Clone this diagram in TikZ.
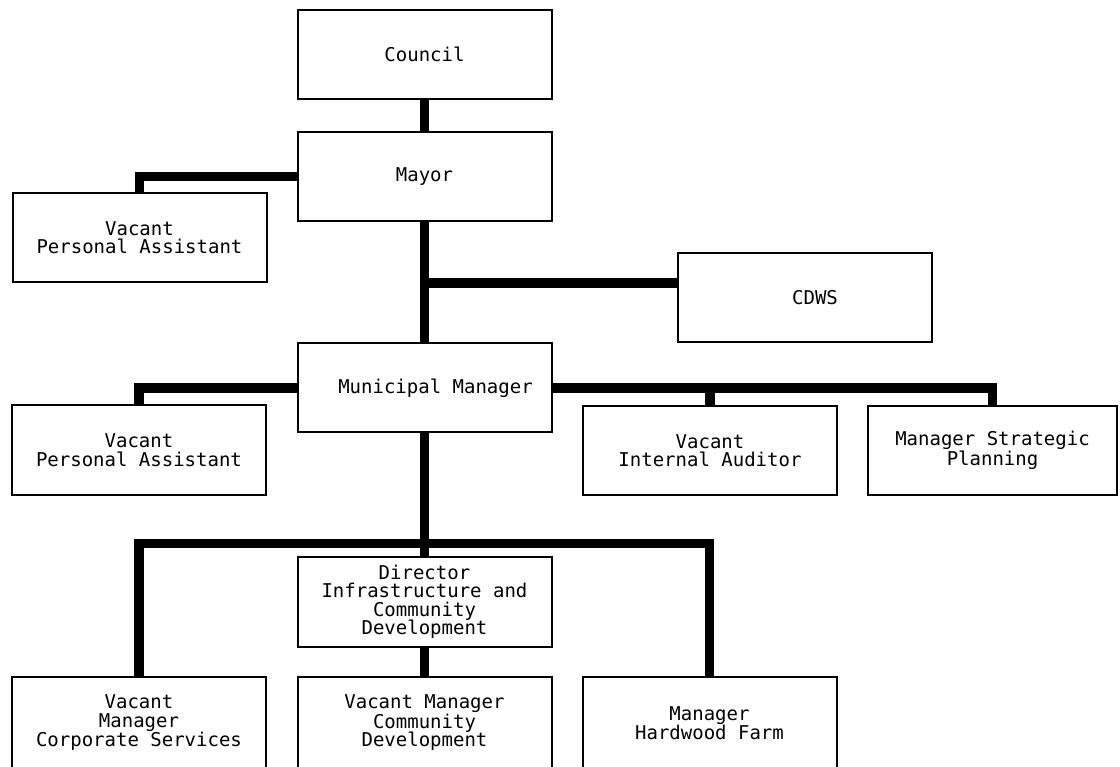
\documentclass[tikz,border=0pt]{standalone}
\usepackage{fontspec}
\newfontfamily\boxfont{DejaVu Sans Mono}
\pgfdeclarelayer{background}
\pgfsetlayers{background,main}
\begin{document}
\begin{tikzpicture}[x=1pt,y=-1pt,
  orgbox/.style={draw=black, line width=2pt, fill=white, rectangle, inner sep=0pt,
    minimum width=254pt, minimum height=89pt, align=center,
    font={\boxfont\fontsize{19}{18.5}\selectfont}},
  link/.style={draw=black, line width=9.5pt}]
\useasboundingbox (0,0) rectangle (1120,767);
% boxes
\node[orgbox] (council) at (424.5,54.5) {Council};
\node[orgbox] (mayor) at (424.5,176.5) {Mayor};
\node[orgbox] (pa1) at (139.5,237.5) {Vacant\\Personal Assistant};
\node[orgbox] (cdws) at (805,298) {\hspace*{20pt}CDWS};
\node[orgbox] (mm) at (424.5,388) {\hspace*{22pt}Municipal Manager};
\node[orgbox] (pa2) at (139,450) {Vacant\\ Personal Assistant};
\node[orgbox] (ia) at (710,450.5) {Vacant\\Internal Auditor};
\node[orgbox, minimum width=249pt] (sp) at (992.5,450.5) {Manager Strategic\\Planning};
\node[orgbox, minimum height=90pt] (dir) at (424.5,602) {Director\\Infrastructure and\\Community\\Development};
\node[orgbox, minimum height=92pt] (cs) at (139,723) {Vacant\\Manager\\Corporate Services};
\node[orgbox, minimum height=92pt] (cd) at (424.5,723) {Vacant Manager\\Community\\Development};
\node[orgbox, minimum height=92pt] (hf) at (709.5,723) {Manager\\Hardwood Farm};
% junctions
\coordinate (j1) at (424.5,283);
\coordinate (j2) at (424.5,543.5);
% white page and connectors behind the boxes
\begin{pgfonlayer}{background}
\fill[white] (0,0) rectangle (1120,767);
\path[link] (council.south) -- (mayor.north);
\path[link] (pa1.north) |- (mayor.west);
\path[link] (mayor.south) -- (mm.north);
\path[link] (j1) -- (j1 -| cdws.west);
\path[link] (pa2.north) |- (mm.west);
\path[link] (mm.east) -| (sp.north);
\path[link] (mm.east -| ia.north) -- (ia.north);
\path[link] (mm.south) -- (dir.north);
\path[link] (cs.north) |- (j2 -| hf.north) -- (hf.north);
\path[link] (dir.south) -- (cd.north);
\end{pgfonlayer}
\end{tikzpicture}
\end{document}
